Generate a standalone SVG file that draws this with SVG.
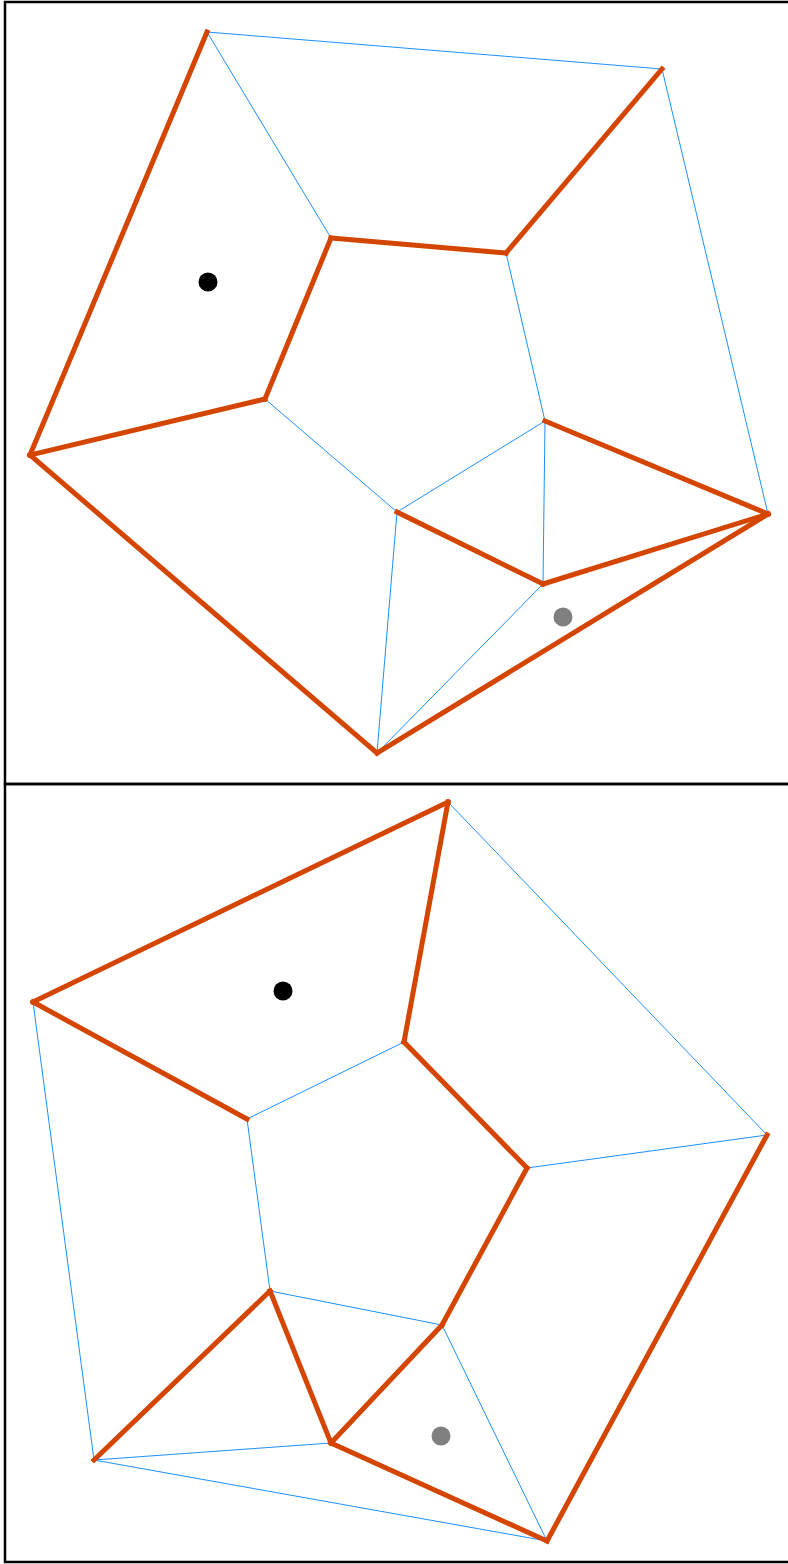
<svg xmlns="http://www.w3.org/2000/svg" width="788" height="1564" viewBox="0 0 788 1564">
<style>
.frame{fill:none;stroke:#000;stroke-width:2.5}
.o{stroke:#D44500;stroke-width:5;stroke-linecap:square;fill:none}
.b{stroke:#1E90FF;stroke-width:1;fill:none}
</style>
<rect x="0" y="0" width="788" height="1564" fill="#fff"/>
<g id="frames">
<rect class="frame" x="5" y="2" width="790" height="782"/>
<rect class="frame" x="5" y="784" width="790" height="778"/>
</g>
<g id="connectors">
<!-- top panel blue -->
<line class="b" x1="207" y1="32" x2="662" y2="69"/>
<line class="b" x1="207" y1="32" x2="331" y2="238"/>
<line class="b" x1="662" y1="69" x2="768" y2="514"/>
<line class="b" x1="506" y1="253" x2="545" y2="421"/>
<line class="b" x1="265" y1="399" x2="397" y2="512"/>
<line class="b" x1="545" y1="421" x2="397" y2="512"/>
<line class="b" x1="545" y1="421" x2="543" y2="584"/>
<line class="b" x1="397" y1="512" x2="377" y2="753"/>
<line class="b" x1="543" y1="584" x2="377" y2="753"/>
<!-- top panel orange -->
<line class="o" x1="207" y1="32" x2="30" y2="455"/>
<line class="o" x1="662" y1="69" x2="506" y2="253"/>
<line class="o" x1="331" y1="238" x2="506" y2="253"/>
<line class="o" x1="331" y1="238" x2="265" y2="399"/>
<line class="o" x1="265" y1="399" x2="30" y2="455"/>
<line class="o" x1="30" y1="455" x2="377" y2="753"/>
<line class="o" x1="545" y1="421" x2="768" y2="514"/>
<line class="o" x1="397" y1="512" x2="543" y2="584"/>
<line class="o" x1="543" y1="584" x2="768" y2="514"/>
<line class="o" x1="768" y1="514" x2="377" y2="753"/>
<!-- bottom panel blue -->
<line class="b" x1="448" y1="802" x2="767" y2="1135"/>
<line class="b" x1="404" y1="1042" x2="247" y2="1119"/>
<line class="b" x1="527" y1="1168" x2="767" y2="1135"/>
<line class="b" x1="33" y1="1002" x2="94" y2="1460"/>
<line class="b" x1="247" y1="1119" x2="270" y2="1291"/>
<line class="b" x1="270" y1="1291" x2="442" y2="1325"/>
<line class="b" x1="94" y1="1460" x2="331" y2="1443"/>
<line class="b" x1="94" y1="1460" x2="547" y2="1541"/>
<line class="b" x1="442" y1="1325" x2="547" y2="1541"/>
<!-- bottom panel orange -->
<line class="o" x1="33" y1="1002" x2="448" y2="802"/>
<line class="o" x1="448" y1="802" x2="404" y2="1042"/>
<line class="o" x1="33" y1="1002" x2="247" y2="1119"/>
<line class="o" x1="404" y1="1042" x2="527" y2="1168"/>
<line class="o" x1="527" y1="1168" x2="442" y2="1325"/>
<line class="o" x1="767" y1="1135" x2="547" y2="1541"/>
<line class="o" x1="270" y1="1291" x2="94" y2="1460"/>
<line class="o" x1="270" y1="1291" x2="331" y2="1443"/>
<line class="o" x1="331" y1="1443" x2="442" y2="1325"/>
<line class="o" x1="331" y1="1443" x2="547" y2="1541"/>
</g>
<g id="dot-top-black"><circle cx="208" cy="282" r="9.5" fill="#000"/></g>
<g id="dot-top-gray"><circle cx="563" cy="617" r="9.5" fill="#808080"/></g>
<g id="dot-bottom-black"><circle cx="283" cy="991" r="9.5" fill="#000"/></g>
<g id="dot-bottom-gray"><circle cx="441" cy="1436" r="9.5" fill="#808080"/></g>
</svg>
